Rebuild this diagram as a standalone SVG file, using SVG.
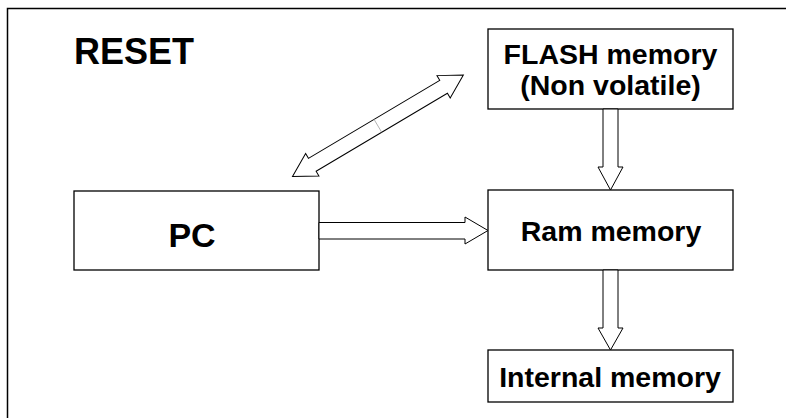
<svg xmlns="http://www.w3.org/2000/svg" width="786" height="418" viewBox="0 0 786 418">
<style>
.box{fill:#fff;stroke:#000;stroke-width:1.3}
.lbl{font-family:"Liberation Sans",Arial,sans-serif;font-weight:bold;fill:#000;text-anchor:middle}
.arr{fill:#fff;stroke:#000;stroke-width:1}
</style>
<rect width="786" height="418" fill="#fff"/>
<path d="M7.5,418 V8.5 H786" fill="none" stroke="#000" stroke-width="1.5"/>
<text class="lbl" x="74" y="64" font-size="36" style="text-anchor:start">RESET</text>
<g id="flash">
<rect class="box" x="488" y="29" width="245" height="80"/>
<text class="lbl" x="610.5" y="64" font-size="28.5">FLASH memory</text>
<text class="lbl" x="610.5" y="95" font-size="28.5">(Non volatile)</text>
</g>
<g id="ram">
<rect class="box" x="488" y="190" width="245" height="80"/>
<text class="lbl" x="611" y="241" font-size="28.5">Ram memory</text>
</g>
<g id="internal">
<rect class="box" x="488" y="350" width="245" height="52"/>
<text class="lbl" x="610" y="387" font-size="28.5">Internal memory</text>
</g>
<g id="pc">
<rect class="box" x="74" y="191" width="245" height="79"/>
<text class="lbl" x="192" y="247" font-size="34">PC</text>
</g>
<g id="connectors">
<polygon class="arr" points="603,109 618,109 618,167 623,167 610.5,190 598,167 603,167"/>
<polygon class="arr" points="603,270 618,270 618,328 623,328 610.5,350 598,328 603,328"/>
<polygon class="arr" points="319,222.5 465,222.5 465,217 488,230.5 465,244 465,239 319,239"/>
<g transform="translate(292.5,176.5) rotate(-30.7)">
<polygon class="arr" points="0,0 23,-13 23,-7.5 175.7,-7.5 175.7,-13 198.7,0 175.7,13 175.7,7.5 23,7.5 23,13"/>
<line x1="99.3" y1="-7.5" x2="99.3" y2="7.5" stroke="#aaa" stroke-width="0.8"/>
</g>
</g>
</svg>
